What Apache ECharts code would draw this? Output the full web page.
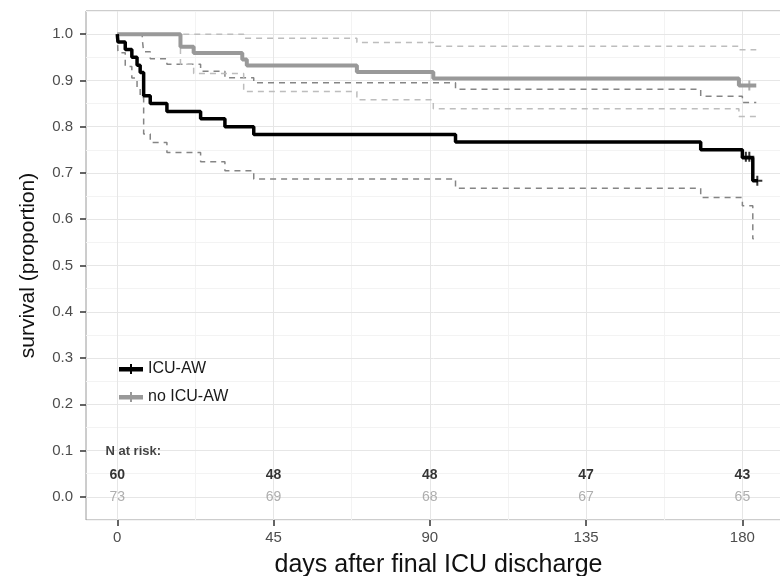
<!DOCTYPE html>
<html>
<head>
<meta charset="utf-8">
<script src="https://cdn.jsdelivr.net/npm/echarts@6/dist/echarts.min.js"></script>
<style>html,body{margin:0;padding:0;background:#fff;}#c{width:780px;height:576px;}</style>
</head>
<body>
<div id="c"></div>
<script>
// Kaplan-Meier step data: [day, survival]
var icuAW = [[0,1.0],[0.2,0.983],[2.3,0.967],[4.2,0.95],[5.7,0.933],[6.6,0.917],[7.6,0.867],[9.5,0.85],[14.3,0.833],[24,0.817],[31,0.80],[39.3,0.783],[97.4,0.767],[168,0.75],[180,0.733],[183,0.683],[184.5,0.683]];
var icuAWUpper = [[0,1.0],[7.2,0.989],[7.6,0.962],[9.5,0.947],[14.3,0.935],[24,0.92],[31,0.906],[39.3,0.895],[97.4,0.881],[168,0.866],[180,0.852],[184,0.852]];
var icuAWLower = [[0,1.0],[0.2,0.96],[2.3,0.93],[4.2,0.905],[5.7,0.885],[6.6,0.863],[7.6,0.784],[9.5,0.766],[14.3,0.744],[24,0.724],[31,0.705],[39.3,0.687],[97.4,0.667],[168,0.647],[180,0.629],[183,0.558],[183.3,0.558]];
var icuAWCensor = [[181,0.735],[182,0.735],[184.3,0.683]];

var noICUAW = [[0,1.0],[18.2,0.973],[22,0.959],[36,0.945],[37.3,0.932],[69,0.918],[91,0.904],[179,0.889],[184,0.889]];
var noICUAWUpper = [[0,1.0],[36.4,0.991],[69,0.982],[91,0.974],[179,0.966],[184,0.966]];
var noICUAWLower = [[0,1.0],[18.2,0.935],[22,0.915],[36.4,0.876],[69,0.858],[91,0.839],[179,0.822],[184,0.822]];
var noICUAWCensor = [[182,0.889]];

// Number at risk
var riskDays = [0, 45, 90, 135, 180];
var riskICUAW = [60, 48, 48, 47, 43];
var riskNoICUAW = [73, 69, 68, 67, 65];

// Axis ticks
var xTicks = [0, 45, 90, 135, 180];
var xMinor = [22.5, 67.5, 112.5, 157.5];
var yTicks = [0, 0.1, 0.2, 0.3, 0.4, 0.5, 0.6, 0.7, 0.8, 0.9, 1.0];
var yMinor = [-0.05, 0.05, 0.15, 0.25, 0.35, 0.45, 0.55, 0.65, 0.75, 0.85, 0.95, 1.05];

var FONT = 'Liberation Sans, Arial, sans-serif';
var plusPath = 'path://M4,0 L6,0 L6,10 L4,10 Z M0,4 L10,4 L10,6 L0,6 Z';
var legendIcon = 'path://M0,3 L24,3 L24,7.5 L0,7.5 Z M11,0 L13,0 L13,10 L11,10 Z';

var gridLines = [];
xMinor.forEach(function(v){ gridLines.push({xAxis: v, lineStyle:{color:'#f3f3f3', width:1, type:'solid'}}); });
yMinor.forEach(function(v){ gridLines.push({yAxis: v, lineStyle:{color:'#f3f3f3', width:1, type:'solid'}}); });
xTicks.forEach(function(v){ gridLines.push({xAxis: v, lineStyle:{color:'#e6e6e6', width:1, type:'solid'}}); });
yTicks.forEach(function(v){ gridLines.push({yAxis: v, lineStyle:{color:'#e6e6e6', width:1, type:'solid'}}); });

var riskBlack = riskDays.map(function(d,i){ return [d, 0.047, riskICUAW[i]]; });
var riskGray = riskDays.map(function(d,i){ return [d, 0.0, riskNoICUAW[i]]; });

function stepSeries(name, data, color, width, dashed, z) {
  return {
    name: name, type: 'line', step: 'end', data: data, symbol: 'none', showSymbol: false,
    lineStyle: {color: color, width: width, type: dashed ? [6, 5] : 'solid'},
    itemStyle: {color: color}, z: z, silent: true, animation: false, clip: true
  };
}

var chart = echarts.init(document.getElementById('c'), null, {renderer: 'canvas'});
chart.setOption({
  animation: false,
  backgroundColor: '#ffffff',
  textStyle: {fontFamily: FONT},
  grid: {left: 86, top: 11, right: -11, bottom: 56, show: true, borderColor: '#9a9a9a', borderWidth: 1,
    backgroundColor: 'transparent', containLabel: false, outerBoundsMode: 'none'},
  legend: {
    orient: 'vertical', left: 114, top: 356, itemWidth: 24, itemHeight: 10, itemGap: 12,
    textStyle: {fontSize: 16, color: '#1a1a1a', fontFamily: FONT},
    data: [
      {name: 'ICU-AW', icon: legendIcon, itemStyle: {color: '#000000'}},
      {name: 'no ICU-AW', icon: legendIcon, itemStyle: {color: '#999999'}}
    ]
  },
  xAxis: {
    type: 'value', min: -9, max: 194,
    name: 'days after final ICU discharge', nameLocation: 'middle', nameGap: 33,
    nameTextStyle: {fontSize: 25, color: '#111', fontFamily: FONT},
    axisLine: {show: false, onZero: false},
    axisTick: {show: true, length: 6, lineStyle: {color: '#333', width: 1.5}, customValues: xTicks},
    axisLabel: {fontSize: 15, color: '#4d4d4d', margin: 10, customValues: xTicks, fontFamily: FONT},
    splitLine: {show: false}
  },
  yAxis: {
    type: 'value', min: -0.05, max: 1.05,
    name: 'survival (proportion)', nameLocation: 'middle', nameGap: 47, nameRotate: 90,
    nameTextStyle: {fontSize: 21, color: '#111', fontFamily: FONT},
    axisLine: {show: false, onZero: false},
    axisTick: {show: true, length: 6, lineStyle: {color: '#333', width: 1.5}, customValues: yTicks},
    axisLabel: {fontSize: 15, color: '#4d4d4d', margin: 13, customValues: yTicks, fontFamily: FONT,
      formatter: function(v){ return v.toFixed(1); }},
    splitLine: {show: false}
  },
  series: [
    {type: 'line', data: [], z: 0, silent: true, markLine: {z: 0, silent: true, symbol: 'none', animation: false, label: {show: false}, data: gridLines}},
    stepSeries('ICU-AW upper', icuAWUpper, '#858585', 1.5, true, 2),
    stepSeries('ICU-AW lower', icuAWLower, '#858585', 1.5, true, 2),
    stepSeries('no ICU-AW upper', noICUAWUpper, '#bdbdbd', 1.5, true, 2),
    stepSeries('no ICU-AW lower', noICUAWLower, '#bdbdbd', 1.5, true, 2),
    stepSeries('no ICU-AW', noICUAW, '#999999', 4, false, 3),
    stepSeries('ICU-AW', icuAW, '#000000', 3.5, false, 4),
    {type: 'scatter', data: icuAWCensor, symbol: plusPath, symbolSize: 10, itemStyle: {color: '#000'}, z: 5, silent: true},
    {type: 'scatter', data: noICUAWCensor, symbol: plusPath, symbolSize: 10, itemStyle: {color: '#999'}, z: 5, silent: true},
    {type: 'scatter', data: [[-3.4, 0.099, 'N at risk:']], symbolSize: 0, silent: true, z: 6,
      label: {show: true, position: 'inside', align: 'left', formatter: function(p){ return p.value[2]; },
        fontSize: 13, fontWeight: 'bold', color: '#111', fontFamily: FONT}},
    {type: 'scatter', data: riskBlack, symbolSize: 0, silent: true, z: 6,
      label: {show: true, position: 'inside', formatter: function(p){ return p.value[2]; },
        fontSize: 14, fontWeight: 'bold', color: '#000', fontFamily: FONT}},
    {type: 'scatter', data: riskGray, symbolSize: 0, silent: true, z: 6,
      label: {show: true, position: 'inside', formatter: function(p){ return p.value[2]; },
        fontSize: 14, color: '#9a9a9a', fontFamily: FONT}}
  ]
});
</script>
</body>
</html>
